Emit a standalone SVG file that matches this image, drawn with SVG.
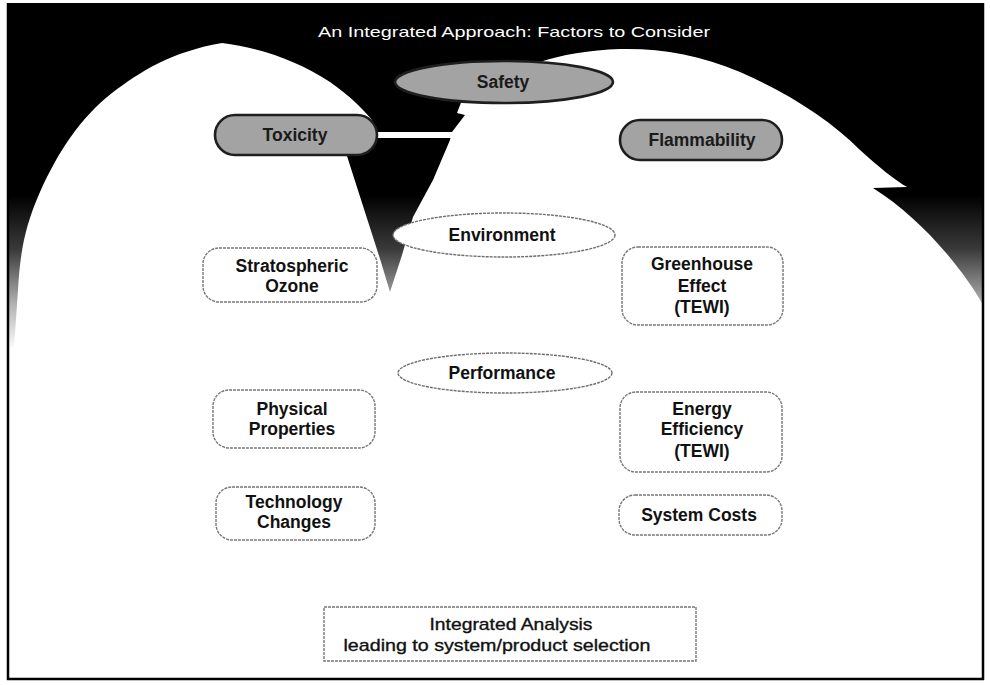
<svg xmlns="http://www.w3.org/2000/svg" width="990" height="685" viewBox="0 0 990 685">
<defs>
<linearGradient id="fade" gradientUnits="userSpaceOnUse" x1="0" y1="195" x2="0" y2="350">
<stop offset="0" stop-color="#000"/>
<stop offset="0.35" stop-color="#3a3a3a"/>
<stop offset="0.7" stop-color="#b0b0b0"/>
<stop offset="1" stop-color="#fff"/>
</linearGradient>
<style>
.lbl{font-family:"Liberation Sans",Arial,sans-serif;font-weight:bold;font-size:17.5px;fill:#111;text-anchor:middle}
.box{fill:#fff;stroke:#777;stroke-width:1.4;stroke-dasharray:3 1}
.ell{fill:#fff;stroke:#6e6e6e;stroke-width:1.4;stroke-dasharray:3 1}
.pill{fill:#a3a3a3;stroke:#1e1e1e;stroke-width:2.6}
.plbl{font-family:"Liberation Sans",Arial,sans-serif;font-weight:bold;font-size:17.5px;fill:#1a1a1a;text-anchor:middle}
.ia{font-family:"Liberation Sans",Arial,sans-serif;font-size:17px;fill:#111;stroke:#111;stroke-width:0.35;text-anchor:middle}
</style>
</defs>
<rect x="0" y="0" width="990" height="685" fill="#fff"/>
<g id="background">
<rect x="8" y="3" width="975" height="345" fill="url(#fade)"/>
<path id="left-hill" fill="#fff" d="M 14,348 L 18,290 C 20,255 24,228 40,192 C 58,152 80,118 112,93 C 140,72 170,52 222,43 C 262,48 300,62 330,82 C 350,96 362,108 372,120 L 362,150 L 347,156 L 381,262 L 390,292 L 396,348 Z"/>
<path id="right-hill" fill="#fff" d="M 384,348 L 390,292 L 402,255 L 413,217 L 433,180 L 450,140 L 452,132 L 465,115 L 457,113 L 462,100 L 540,62 C 560,55 590,50 620,49 C 660,48 700,55 740,72 C 790,94 830,120 860,150 C 880,168 895,180 907,187 L 873,188 C 900,205 925,228 947,254 C 962,272 975,290 983,305 L 983,348 Z"/>
<line x1="8" y1="3" x2="8" y2="680" stroke="#000" stroke-width="2.5"/>
<line x1="983" y1="3" x2="983" y2="680" stroke="#000" stroke-width="2.5"/>
<line x1="7" y1="679" x2="984" y2="679" stroke="#000" stroke-width="2.5"/>
</g>
<g id="connectors">
<line x1="372" y1="135" x2="452" y2="135" stroke="#fff" stroke-width="6"/>
</g>
<g id="title">
<text x="514" y="37" font-family="'Liberation Sans',Arial,sans-serif" font-size="15" fill="#fff" text-anchor="middle" textLength="392" lengthAdjust="spacingAndGlyphs">An Integrated Approach:  Factors to Consider</text>
</g>
<g id="safety">
<ellipse class="pill" cx="504" cy="82" rx="109" ry="21"/>
<text class="plbl" x="503" y="88">Safety</text>
</g>
<g id="toxicity">
<rect class="pill" x="215" y="115" width="162" height="40" rx="20"/>
<text class="plbl" x="295" y="141">Toxicity</text>
</g>
<g id="flammability">
<rect class="pill" x="620" y="120" width="162" height="40" rx="20"/>
<text class="plbl" x="702" y="146">Flammability</text>
</g>
<g id="environment">
<ellipse class="ell" cx="504" cy="235" rx="111" ry="22"/>
<text class="lbl" x="502" y="241">Environment</text>
</g>
<g id="stratospheric-ozone">
<rect class="box" x="203" y="248" width="174" height="54" rx="16"/>
<text class="lbl" x="292" y="272">Stratospheric</text>
<text class="lbl" x="292" y="292">Ozone</text>
</g>
<g id="greenhouse-effect">
<rect class="box" x="622" y="247" width="161" height="78" rx="16"/>
<text class="lbl" x="702" y="270">Greenhouse</text>
<text class="lbl" x="702" y="292">Effect</text>
<text class="lbl" x="702" y="313">(TEWI)</text>
</g>
<g id="performance">
<ellipse class="ell" cx="505" cy="373" rx="107" ry="20"/>
<text class="lbl" x="502" y="379">Performance</text>
</g>
<g id="physical-properties">
<rect class="box" x="213" y="390" width="162" height="58" rx="16"/>
<text class="lbl" x="292" y="415">Physical</text>
<text class="lbl" x="292" y="435">Properties</text>
</g>
<g id="energy-efficiency">
<rect class="box" x="620" y="392" width="162" height="80" rx="16"/>
<text class="lbl" x="702" y="415">Energy</text>
<text class="lbl" x="702" y="435">Efficiency</text>
<text class="lbl" x="702" y="457">(TEWI)</text>
</g>
<g id="technology-changes">
<rect class="box" x="216" y="487" width="159" height="53" rx="16"/>
<text class="lbl" x="294" y="508">Technology</text>
<text class="lbl" x="294" y="528">Changes</text>
</g>
<g id="system-costs">
<rect class="box" x="619" y="495" width="163" height="40" rx="16"/>
<text class="lbl" x="699" y="521">System Costs</text>
</g>
<g id="integrated-analysis">
<rect class="box" x="324" y="607" width="372" height="54"/>
<text class="ia" x="511" y="630" textLength="163" lengthAdjust="spacingAndGlyphs">Integrated Analysis</text>
<text class="ia" x="497" y="651" textLength="307" lengthAdjust="spacingAndGlyphs">leading to system/product selection</text>
</g>
</svg>
